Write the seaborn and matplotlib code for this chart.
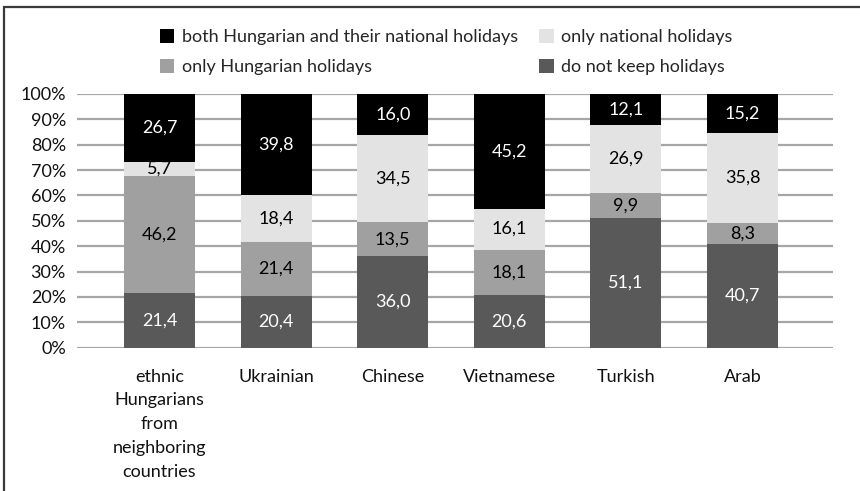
import matplotlib
matplotlib.use("Agg")
import matplotlib.pyplot as plt
from matplotlib.patches import Rectangle, Patch
import numpy as np
import pandas as pd
import seaborn as sns

# Share of respondents by holiday-keeping practice (percent, each group sums to 100)
groups = ["ethnic\nHungarians\nfrom\nneighboring\ncountries", "Ukrainian", "Chinese",
          "Vietnamese", "Turkish", "Arab"]
do_not_keep = [21.4, 20.4, 36.0, 20.6, 51.1, 40.7]
only_hungarian = [46.2, 21.4, 13.5, 18.1, 9.9, 8.3]
only_national = [5.7, 18.4, 34.5, 16.1, 26.9, 35.8]
both = [26.7, 39.8, 16.0, 45.2, 12.1, 15.2]

series_names = ["do not keep holidays", "only Hungarian holidays",
                "only national holidays", "both Hungarian and their national holidays"]
series_values = [do_not_keep, only_hungarian, only_national, both]
series_colors = ["#595959", "#a0a0a0", "#e3e3e3", "#000000"]
label_colors = ["white", "black", "black", "white"]
y_ticks = [0, 10, 20, 30, 40, 50, 60, 70, 80, 90, 100]

sns.set_theme(style="white")
plt.rcParams["font.family"] = ["Lato", "DejaVu Sans"]
FS = 13

fig = plt.figure(figsize=(8.6, 4.91), dpi=100)
W, H = 860, 491
ax = fig.add_axes([77 / W, 1 - 347.7 / H, (833 - 77) / W, (347.7 - 94) / H])

# cumulative stacks, drawn from the top layer downwards so each covers the one above
cums = np.cumsum(np.array(series_values), axis=0)
bar_w = 0.609
for i in range(len(series_names) - 1, -1, -1):
    df = pd.DataFrame({"group": groups, "value": cums[i]})
    sns.barplot(data=df, x="group", y="value", color=series_colors[i],
                saturation=1, width=bar_w, ax=ax, linewidth=0, zorder=3)

for i, vals in enumerate(series_values):
    for j, v in enumerate(vals):
        yc = cums[i][j] - v / 2
        ax.text(j, yc, f"{v:.1f}".replace(".", ","), ha="center", va="center",
                fontsize=FS, color=label_colors[i], zorder=5)

ax.set_ylim(0, 100)
ax.set_xlim(-0.7075, 5.776)
ax.set_yticks(y_ticks)
ax.set_yticklabels([f"{t}%" for t in y_ticks], fontsize=FS, color="#111111")
ax.set_xticks(range(len(groups)))
ax.set_xticklabels(groups, fontsize=FS, color="#111111", linespacing=1.6)
ax.tick_params(axis="y", length=0, pad=8)
ax.tick_params(axis="x", length=0, pad=15)
ax.set_xlabel("")
ax.set_ylabel("")
ax.yaxis.grid(True, color="#a6a6a6", linewidth=1.6, zorder=0)
ax.set_axisbelow(True)
for s in ax.spines.values():
    s.set_visible(False)

# legend: two columns, filled column by column
order = [3, 1, 2, 0]
handles = [Patch(facecolor=series_colors[k], edgecolor="none") for k in order]
labels = [series_names[k] for k in order]
fig.legend(handles, labels, ncol=2, frameon=False, fontsize=FS,
           loc="upper left", bbox_to_anchor=(160 / W, 1 - 29 / H),
           handlelength=0.8, handleheight=0.8, handletextpad=0.4,
           columnspacing=1.2, labelspacing=0.75, borderaxespad=0, borderpad=0)

# outer frame
fig.patches.append(Rectangle((4 / W, -0.1), 1.2, 1.1 - 7 / H, transform=fig.transFigure,
                             fill=False, edgecolor="#3a3a3a", linewidth=1.6))

fig.savefig("out.png", dpi=100)
